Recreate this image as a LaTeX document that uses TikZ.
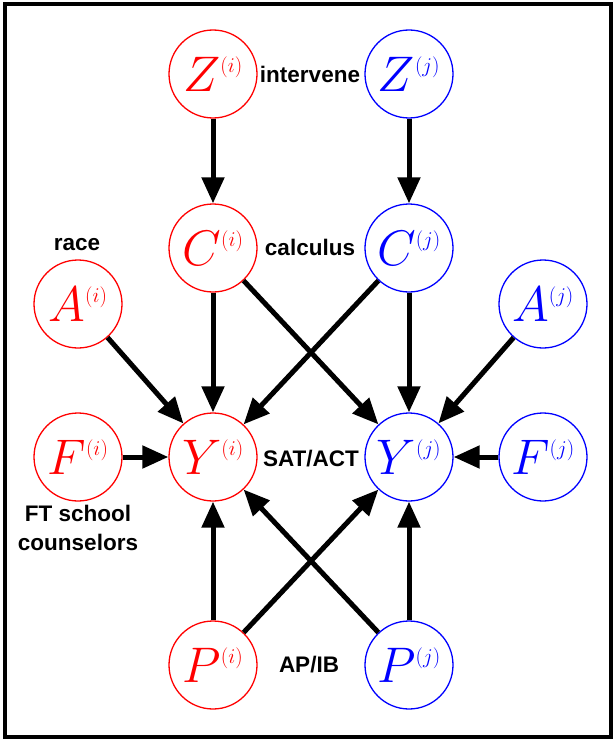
\RequirePackage{fix-cm}
\documentclass[tikz,border=0pt]{standalone}
\usepackage{fontspec}
\newfontfamily\labelfont{Liberation Sans}
\usetikzlibrary{arrows.meta}
\DeclareMathSizes{50}{50}{21}{15}
\tikzset{
  var/.style={circle, draw, line width=1.3pt, minimum size=88pt, inner sep=0pt,
    font=\fontsize{50}{60}\selectfont},
  vi/.style={var, red, text=red},
  vj/.style={var, blue, text=blue},
  lab/.style={font=\labelfont\bfseries\fontsize{22.5}{29}\selectfont, align=center, inner sep=0pt},
  arr/.style={line width=5pt, -{Triangle[length=26pt,width=22pt]}},
}
\begin{document}
\begin{tikzpicture}[x=1pt,y=-1pt]
\useasboundingbox (0,0) rectangle (615,741);
\draw[line width=4pt] (5,4) rectangle (611,737);
% nodes
\node[vi] (Zi) at (213,74) {$Z^{(i)}$};
\node[vj] (Zj) at (409,74) {$Z^{(j)}$};
\node[vi] (Ci) at (213,248) {$C^{(i)}$};
\node[vj] (Cj) at (409,248) {$C^{(j)}$};
\node[vi] (Ai) at (78,304) {$A^{(i)}$};
\node[vj] (Aj) at (543,304) {$A^{(j)}$};
\node[vi] (Yi) at (213,457) {$Y^{(i)}$};
\node[vj] (Yj) at (409,457) {$Y^{(j)}$};
\node[vi] (Fi) at (78,457) {$F^{(i)}$};
\node[vj] (Fj) at (543,457) {$F^{(j)}$};
\node[vi] (Pi) at (213,665) {$P^{(i)}$};
\node[vj] (Pj) at (409,665) {$P^{(j)}$};
% labels
\node[lab] (lint) at (310,74) {intervene};
\node[lab] (lcal) at (310,247) {calculus};
\node[lab] (lrace) at (77,245) {race};
\node[lab] (lsat) at (311,459) {SAT/ACT};
\node[lab] (lft) at (78,528) {FT school\\counselors};
\node[lab] (lap) at (309,665) {AP/IB};
% edges
\draw[arr] (Zi) -- (Ci);
\draw[arr] (Zj) -- (Cj);
\draw[arr] (Ci) -- (Yi);
\draw[arr] (Ci) -- (Yj);
\draw[arr] (Cj) -- (Yi);
\draw[arr] (Cj) -- (Yj);
\draw[arr] (Ai) -- (Yi);
\draw[arr] (Aj) -- (Yj);
\draw[arr] (Fi) -- (Yi);
\draw[arr] (Fj) -- (Yj);
\draw[arr] (Pi) -- (Yi);
\draw[arr] (Pi) -- (Yj);
\draw[arr] (Pj) -- (Yi);
\draw[arr] (Pj) -- (Yj);
\end{tikzpicture}
\end{document}
